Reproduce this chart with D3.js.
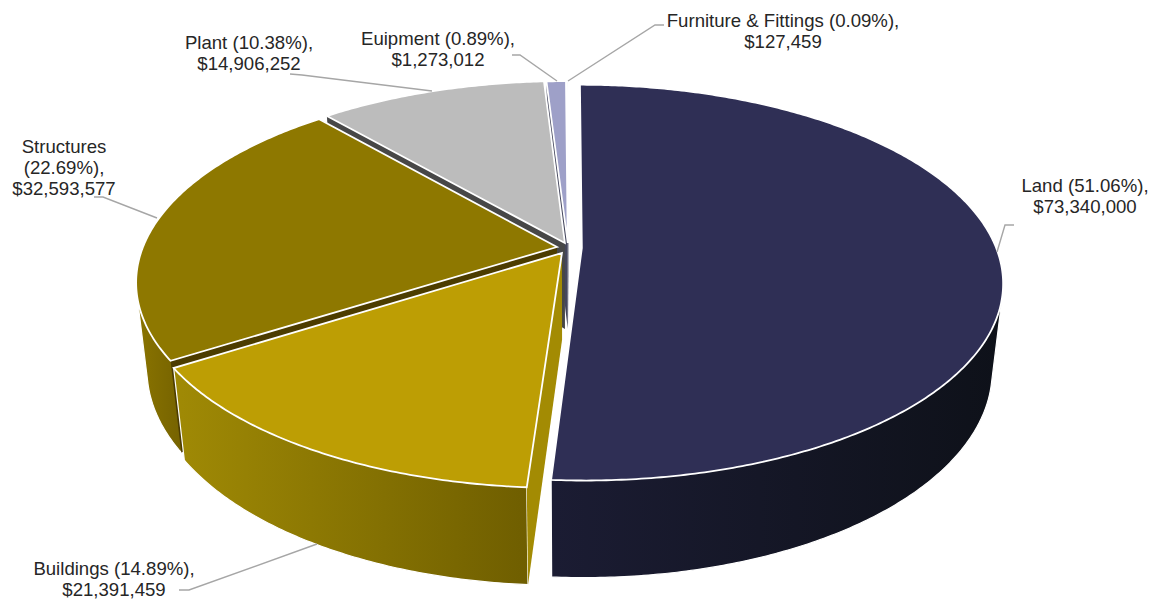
<!DOCTYPE html>
<html>
<head>
<meta charset="utf-8">
<script src="https://cdn.jsdelivr.net/npm/d3@7"></script>
<style>
  html, body { margin: 0; background: #fff; }
  svg { display: block; }
  .label { font-family: "Liberation Sans", Arial, sans-serif; font-size: 18.6px; fill: #262626; text-anchor: middle; }
  .leader { fill: none; stroke: #a6a6a6; stroke-width: 1.4; }
</style>
</head>
<body>
<svg id="chart" width="1160" height="600" viewBox="0 0 1160 600"></svg>
<script>
// data
const categories = ['Land', 'Buildings', 'Structures', 'Plant', 'Euipment', 'Furniture & Fittings'];
const values = [73340000, 21391459, 32593577, 14906252, 1273012, 127459];

// slice styling, same order as categories
const topColors = ['#2f2f55', '#bd9e04', '#8e7800', '#bcbcbc', '#9ea0c8', '#dfe0ea'];
const cutColors = ['#1b1c33', '#a38b03', '#4c3c00', '#474747', '#44465c', '#7f8090'];
const wallFrom = ['#1b1c33', '#a08a05', '#8a7400', '#888', '#777', '#777'];
const wallTo = ['#0e1119', '#6f5e00', '#6e5c00', '#888', '#777', '#777'];

// explosion of each slice, in radius units
const explodeX = [0.031, -0.017, -0.029, -0.010, -0.003, -0.001];
const explodeY = [0.005, 0.031, 0, -0.021, -0.021, -0.021];

// label placement: centre x, first baseline, leader points
const labelX = [1085, 114, 64, 249, 438, 783];
const labelY = [192, 575, 153, 49, 45, 27];
const labelLines = [
  d => [`${d.name} (${d.pct}),`, d.money],
  d => [`${d.name} (${d.pct}),`, d.money],
  d => [d.name, `(${d.pct}),`, d.money],
  d => [`${d.name} (${d.pct}),`, d.money],
  d => [`${d.name} (${d.pct}),`, d.money],
  d => [`${d.name} (${d.pct}),`, d.money],
];
const leaders = [
  [[1014, 225], [1005, 225], [997, 252]],
  [[179, 590], [189, 590], [317, 544]],
  [[94, 197], [103, 197], [157, 218]],
  [[290, 74], [302, 75], [432, 91]],
  [[512, 55], [520, 55], [557, 81]],
  [[664, 25], [655, 25], [568, 81]],
];

// camera
const cx = 569, cy = 247, rx = 414, ry = 191.5;
const persp = 0.175, shrink = 0.025, depth = 0.461;
const xScale = d3.scaleLinear().domain([-1, 1]).range([cx - rx, cx + rx]);
const yScale = d3.scaleLinear().domain([-1, 1]).range([cy - ry, cy + ry]);

function project(mx, my, z) {
  const s = 1 / (1 - persp * my + shrink * z);
  return [xScale(mx * s), yScale((my + z * depth) * s)];
}

const pie = d3.pie().sort(null).value(d => d.value);
const total = d3.sum(values);
const rows = categories.map((name, i) => ({
  name,
  value: values[i],
  i,
  pct: d3.format('.2%')(values[i] / total),
  money: d3.format('$,')(values[i]),
}));
const slices = pie(rows);

const svg = d3.select('#chart');
const defs = svg.append('defs');
const line = d3.line();

function rim(i, a0, a1, z) {
  const n = Math.max(2, Math.ceil((a1 - a0) / 0.01));
  return d3.range(n + 1).map(k => {
    const a = a0 + (a1 - a0) * k / n;
    return project(explodeX[i] + Math.sin(a), explodeY[i] - Math.cos(a), z);
  });
}

// back slices first, Land last
const order = slices.slice().reverse();
const g = svg.append('g');

order.forEach(sl => {
  const i = sl.data.i;
  const a0 = sl.startAngle, a1 = sl.endAngle;
  const apexTop = project(explodeX[i], explodeY[i], 0);
  const apexBot = project(explodeX[i], explodeY[i], 1);
  const sliceG = g.append('g').attr('class', 'slice');

  // outer wall, only the part turned to the viewer. The hull also fills
  // the tangent between top and bottom rim, the top face hides the chord.
  const w0 = Math.max(a0, Math.PI * 0.39);
  const w1 = Math.min(a1, Math.PI * 1.61);
  if (w1 > w0) {
    const hull = d3.polygonHull(rim(i, w0, w1, 0).concat(rim(i, w0, w1, 1)));
    const xs = d3.extent(hull, p => p[0]);
    const id = `wall${i}`;
    const grad = defs.append('linearGradient')
      .attr('id', id)
      .attr('gradientUnits', 'userSpaceOnUse')
      .attr('x1', xs[0]).attr('x2', xs[1]).attr('y1', 0).attr('y2', 0);
    grad.append('stop').attr('offset', 0).attr('stop-color', wallFrom[i]);
    grad.append('stop').attr('offset', 1).attr('stop-color', wallTo[i]);
    sliceG.append('path')
      .attr('d', line(hull) + 'Z')
      .attr('fill', `url(#${id})`)
      .attr('stroke', '#fff')
      .attr('stroke-width', 1.2);
  }

  // cut face at the start angle
  const cut = [apexTop, rim(i, a0, a0 + 0.01, 0)[0], rim(i, a0, a0 + 0.01, 1)[0], apexBot];
  if (i !== 0) {
    sliceG.append('path')
      .attr('d', line(cut) + 'Z')
      .attr('fill', cutColors[i]);
  }

  // top face
  sliceG.append('path')
    .attr('d', line([apexTop].concat(rim(i, a0, a1, 0))) + 'Z')
    .attr('fill', topColors[i])
    .attr('stroke', '#fff')
    .attr('stroke-width', 1.8)
    .attr('stroke-linejoin', 'miter');
});

// leaders and labels
svg.append('g').selectAll('path')
  .data(leaders)
  .join('path')
  .attr('class', 'leader')
  .attr('d', d => line(d));

const labels = svg.append('g').selectAll('text')
  .data(rows)
  .join('text')
  .attr('class', 'label')
  .attr('x', d => labelX[d.i])
  .attr('y', d => labelY[d.i]);

labels.selectAll('tspan')
  .data(d => labelLines[d.i](d).map((t, k) => ({ t, k, i: d.i })))
  .join('tspan')
  .attr('x', d => labelX[d.i])
  .attr('dy', d => (d.k ? 20.8 : 0))
  .text(d => d.t);
</script>
</body>
</html>
